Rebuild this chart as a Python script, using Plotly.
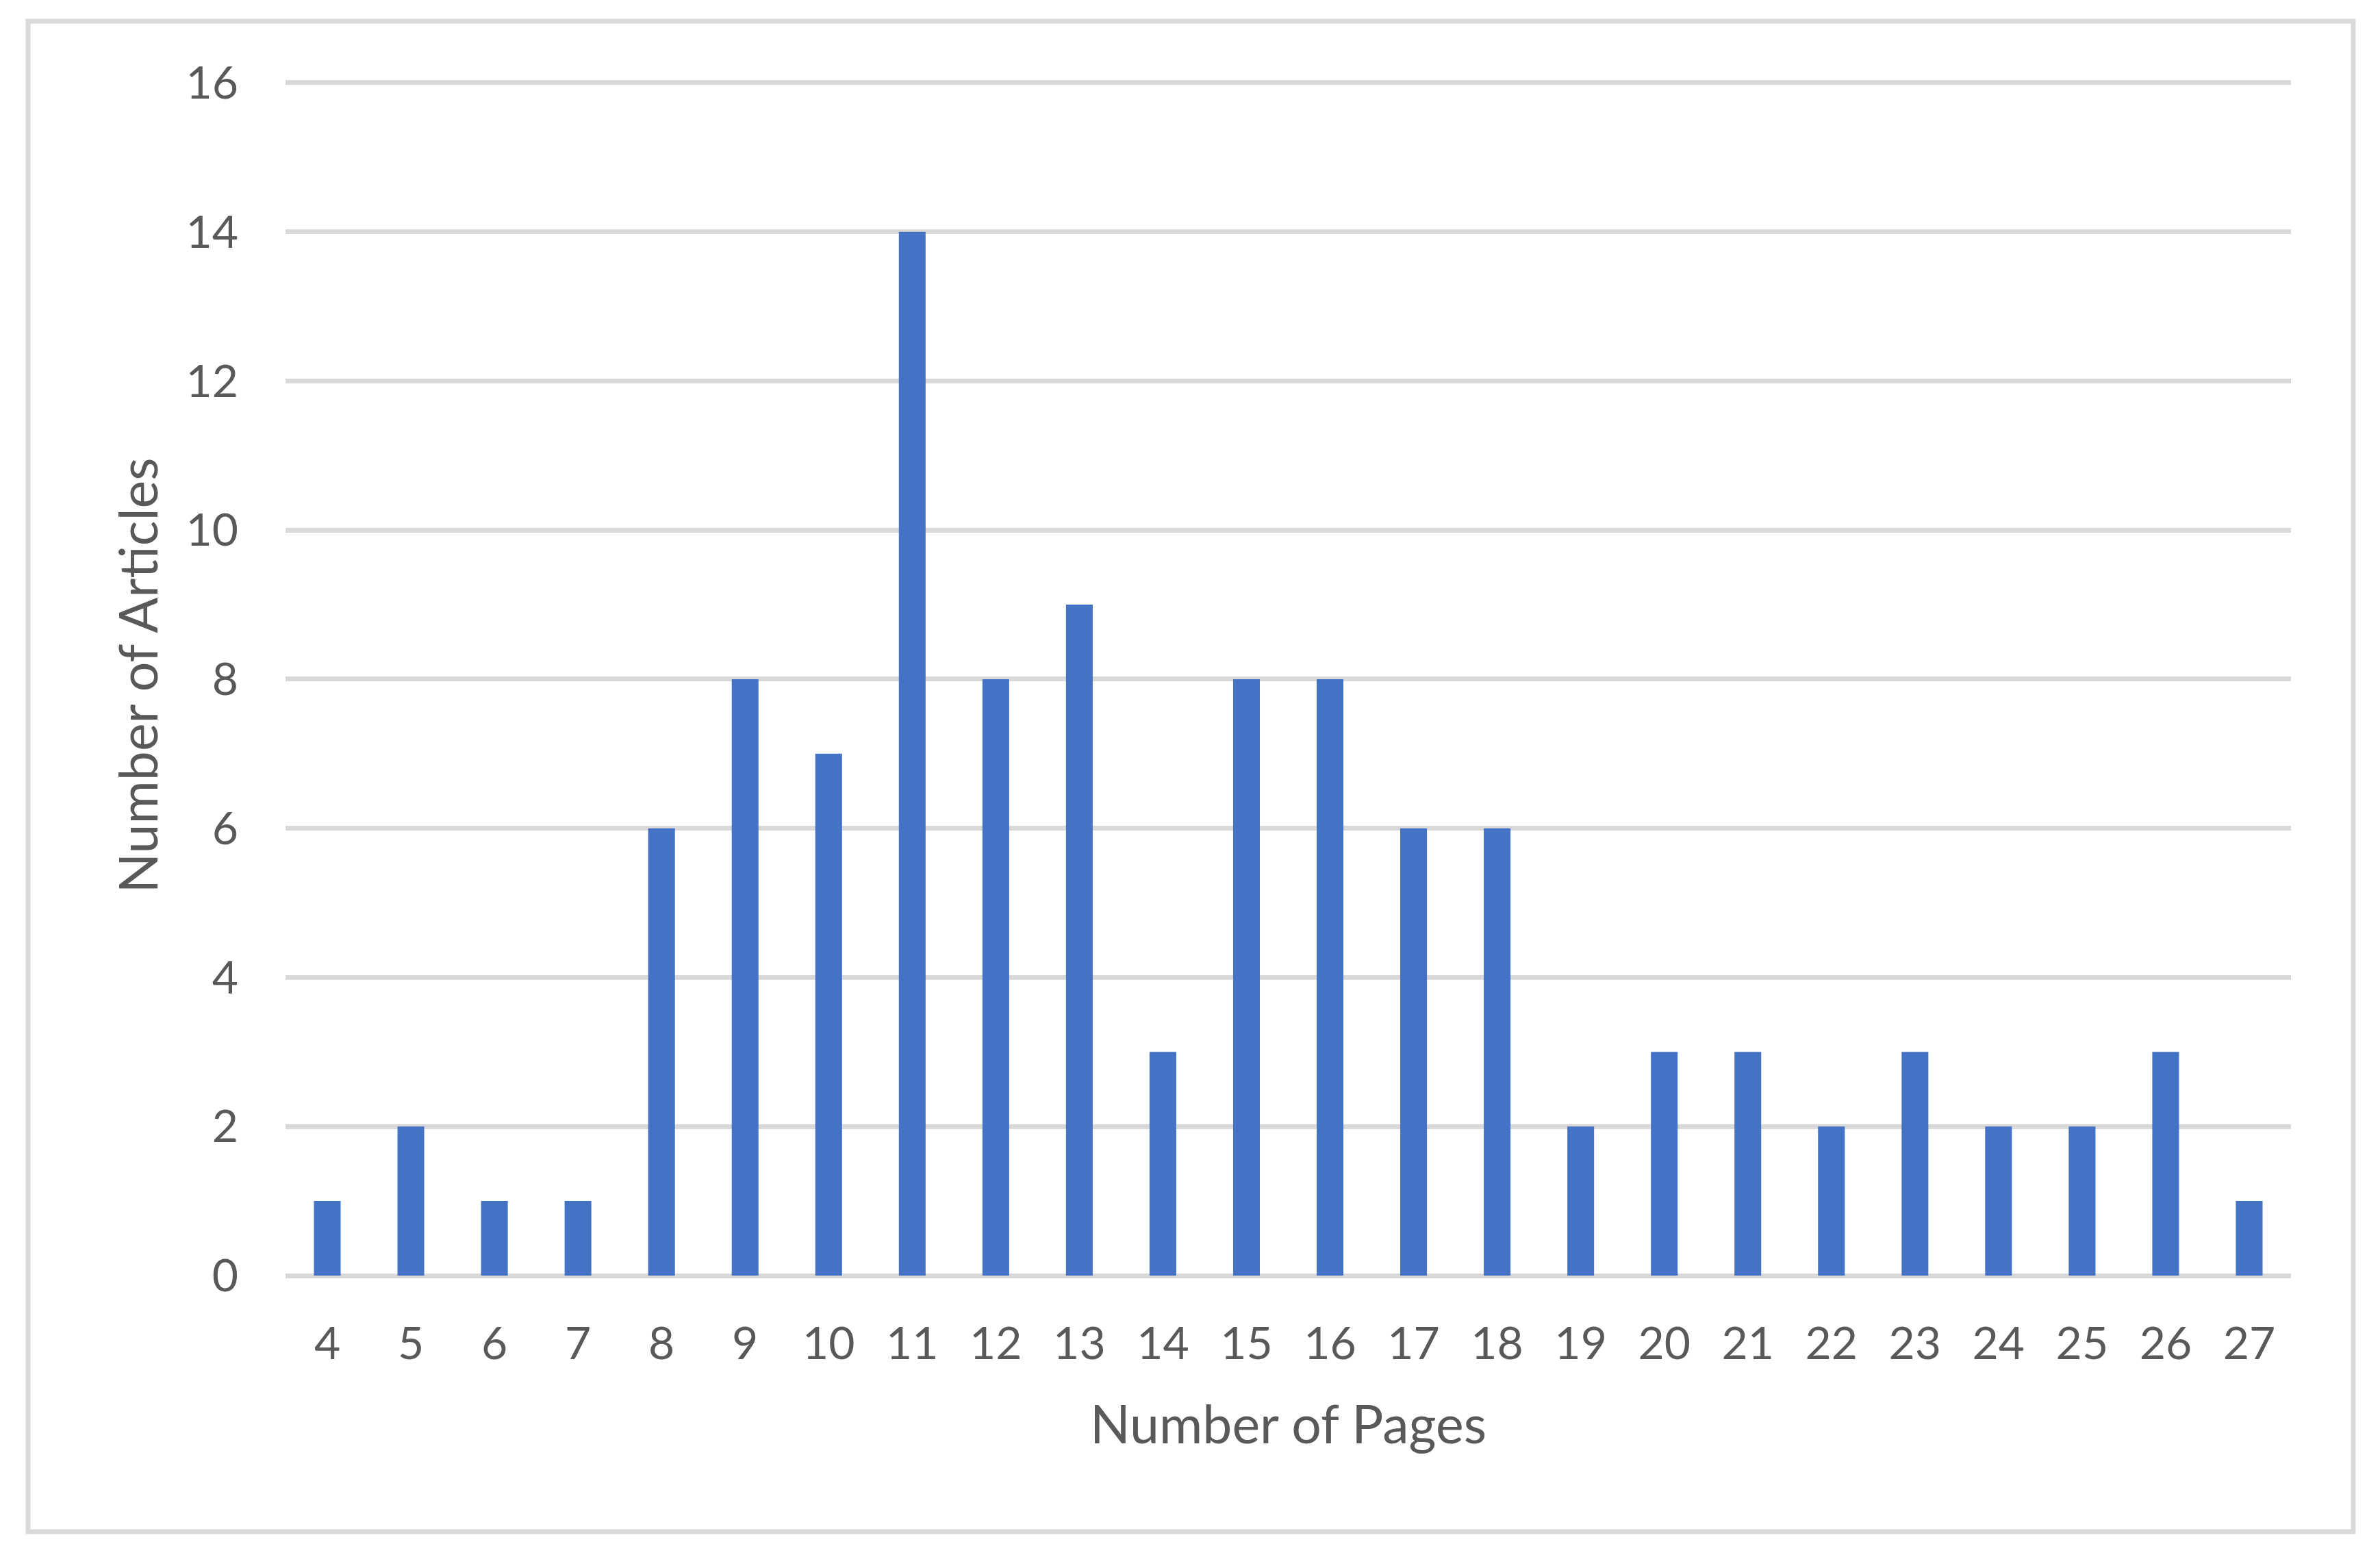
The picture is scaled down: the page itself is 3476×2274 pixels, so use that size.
import plotly.graph_objects as go

pages = ["4", "5", "6", "7", "8", "9", "10", "11", "12", "13", "14", "15",
         "16", "17", "18", "19", "20", "21", "22", "23", "24", "25", "26", "27"]
articles = [1, 2, 1, 1, 6, 8, 7, 14, 8, 9, 3, 8, 8, 6, 6, 2, 3, 3, 2, 3, 2, 2, 3, 1]
y_ticks = [0, 2, 4, 6, 8, 10, 12, 14, 16]

OFF = 8  # default body margin of the html page
W, H = 3476 - 2 * OFF, 2274 - 2 * OFF
YMAX = 16.1
L, R, B = 417 - OFF, W - (3346 - OFF), H - (1863 - OFF)
T = 121 - OFF - int(round((YMAX - 16) * (1863 - 121) / 16))
FONT = "Lato"
TXT = "#595959"
GRID = "#d9d9d9"

fig = go.Figure(go.Bar(x=pages, y=articles, marker=dict(color="#4472C4", line=dict(width=0))))

pw = W - L - R
ph = H - T - B
def px2paper_x(p):
    return (p - OFF - L) / pw
def px2paper_y(p):
    return (H - B - (p - OFF)) / ph

fig.update_layout(
    width=W, height=H,
    margin=dict(l=L, r=R, t=T, b=B, pad=0),
    paper_bgcolor="white", plot_bgcolor="white",
    bargap=0.68,
    showlegend=False,
    font=dict(family=FONT, color=TXT, size=66),
    xaxis=dict(
        type="category",
        title=dict(text="Number of Pages", font=dict(family=FONT, size=77, color=TXT), standoff=56),
        tickfont=dict(family=FONT, size=66, color=TXT),
        showgrid=False, zeroline=False, showline=False,
        ticks="", ticklabelstandoff=55,
    ),
    yaxis=dict(
        range=[0, YMAX],
        tickvals=y_ticks,
        title=dict(text="Number of Articles", font=dict(family=FONT, size=77, color=TXT), standoff=15),
        tickfont=dict(family=FONT, size=66, color=TXT),
        showgrid=True, gridcolor=GRID, gridwidth=6.5,
        zeroline=True, zerolinecolor=GRID, zerolinewidth=6.5,
        showline=False, ticks="", ticklabelstandoff=68,
    ),
    shapes=[dict(
        type="rect", xref="paper", yref="paper",
        x0=px2paper_x(41), x1=px2paper_x(3437),
        y0=px2paper_y(2237), y1=px2paper_y(31),
        line=dict(color=GRID, width=7), fillcolor="rgba(0,0,0,0)", layer="below",
    )],
)

fig.write_html("out.html")
